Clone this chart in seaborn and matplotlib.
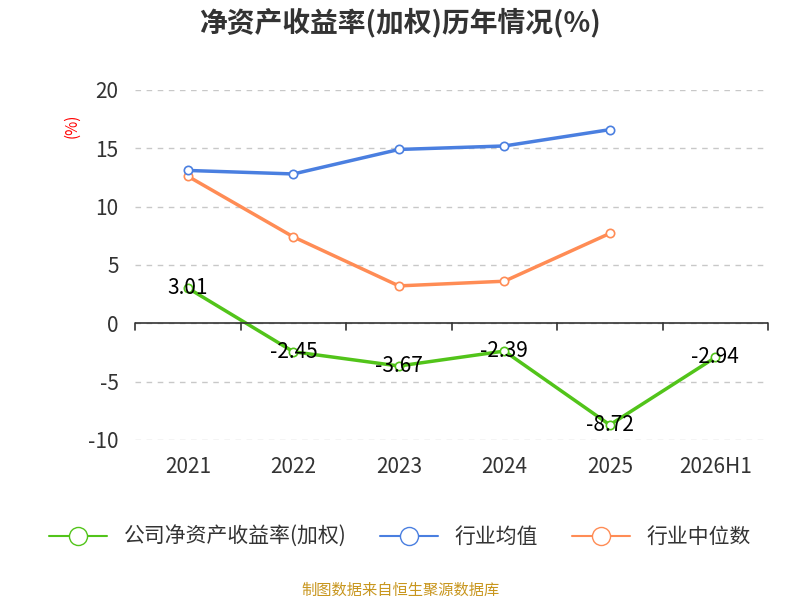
import matplotlib
matplotlib.use("Agg")
import matplotlib.pyplot as plt
import seaborn as sns
import pandas as pd
from matplotlib.lines import Line2D

years = ["2021", "2022", "2023", "2024", "2025", "2026H1"]
company = [3.01, -2.45, -3.67, -2.39, -8.72, -2.94]
industry_avg = [13.1, 12.8, 14.9, 15.2, 16.6, None]
industry_med = [12.6, 7.4, 3.2, 3.6, 7.7, None]

sns.set_style("white")
plt.rcParams['font.family'] = ['Noto Sans CJK SC', 'DejaVu Sans']
plt.rcParams['axes.unicode_minus'] = False

fig = plt.figure(figsize=(8, 6), dpi=100)
ax = fig.add_axes([0.169, 0.267, 0.791, 0.583])

df = pd.DataFrame({"x": range(len(years)), "company": company,
                   "avg": industry_avg, "med": industry_med})
series = [("company", "#52c41a", "公司净资产收益率(加权)"),
          ("avg", "#4a7fe0", "行业均值"),
          ("med", "#ff8c55", "行业中位数")]
for col, color, label in series[::-1]:
    sub = df.dropna(subset=[col])
    sns.lineplot(data=sub, x="x", y=col, ax=ax, color=color, linewidth=2.5,
                 marker="o", markersize=6, markerfacecolor="white",
                 markeredgecolor=color, markeredgewidth=1.2)

for i, v in enumerate(company):
    ax.text(i, v, f"{v:.2f}", ha="center", va="center", fontsize=15, color="black")

ax.set_xlim(-0.5, len(years) - 0.5)
ax.set_ylim(-10, 20)
ax.set_yticks([-10, -5, 0, 5, 10, 15, 20])
ax.yaxis.grid(True, linestyle=(0, (4, 4)), color="#c8c8c8", linewidth=1)
ax.set_axisbelow(True)
for s in ax.spines.values():
    s.set_visible(False)
ax.axhline(0, color="#333333", linewidth=1.2)
for b in [i - 0.5 for i in range(len(years) + 1)]:
    ax.plot([b, b], [0, -0.6], color="#333333", linewidth=1.2, clip_on=False)
ax.set_xticks(range(len(years)))
ax.set_xticklabels(years)
ax.tick_params(axis="both", length=0, labelsize=15, colors="#333333", pad=12)
ax.set_xlabel("")
ax.set_ylabel("")
fig.text(0.09, 0.79, "(%)", color="red", fontsize=11, rotation=90, ha="center", va="center")

fig.text(0.5, 0.962, "净资产收益率(加权)历年情况(%)", ha="center", va="center",
         fontsize=20, fontweight="bold", color="#333333")

handles = [Line2D([0], [0], color=c, linewidth=1.5, marker="o", markersize=13,
                  markerfacecolor="white", markeredgecolor=c) for _, c, _ in series]
fig.legend(handles, [l for _, _, l in series], loc="center", bbox_to_anchor=(0.5, 0.105),
           ncol=3, frameon=False, fontsize=15, handlelength=2.8, columnspacing=1.6,
           labelcolor="#333333")

fig.text(0.5, 0.017, "制图数据来自恒生聚源数据库", ha="center", va="center",
         fontsize=11, color="#c8961e")

fig.savefig("out.png", dpi=100)
